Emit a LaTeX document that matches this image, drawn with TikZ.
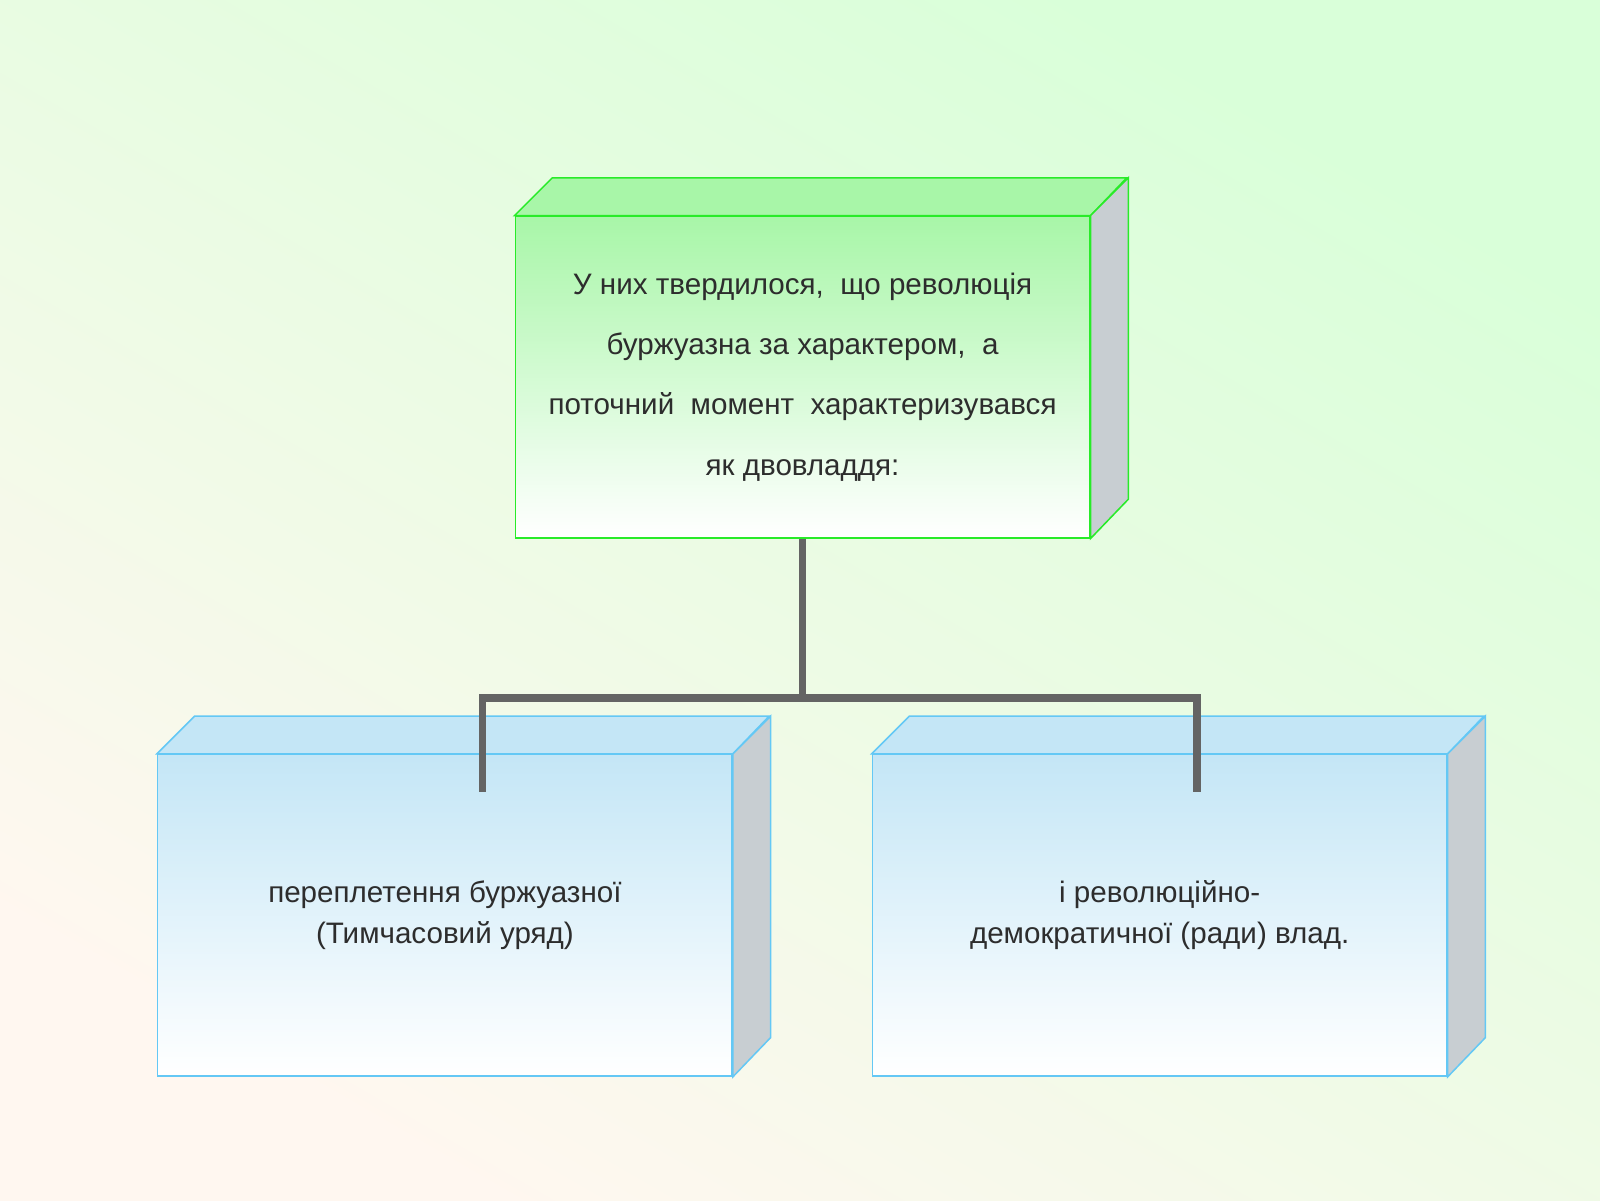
\documentclass[tikz,border=0pt]{standalone}
\usepackage{fontspec}
\setmainfont{Liberation Sans}
\usetikzlibrary{positioning}
\definecolor{greenline}{RGB}{40,235,40}
\definecolor{greentop}{RGB}{168,246,168}
\definecolor{blueline}{RGB}{100,200,245}
\definecolor{bluetop}{RGB}{196,230,246}
\definecolor{sidegray}{RGB}{200,206,210}
\definecolor{linkgray}{RGB}{100,100,100}
\definecolor{txt}{RGB}{45,45,45}
\tikzset{
  front/.style={draw=#1line, line width=1.5pt, top color=#1top, bottom color=white,
    minimum width=563pt, minimum height=315pt, inner sep=0pt, align=center,
    text=txt, font=\fontsize{29}{40}\selectfont},
  link/.style={draw=linkgray, line width=7pt}
}
\begin{document}
\begin{tikzpicture}[x=1pt, y=-1pt]
	\shade[top color=white!85!green, bottom color=orange!6, shading angle=-30] (0,0) rectangle (1568,1176);
	\useasboundingbox (0,0) rectangle (1568,1176);

	\node[front=green, font=\fontsize{29}{59}\selectfont] (top)	at	(786.5, 369.5)	{У них твердилося, \ що революція\\ буржуазна за характером, \ а\\ поточний \ момент \ характеризувався\\ як двовладдя:};
	\node[front=blue]	(left)	at	(436, 897)	{переплетення буржуазної\\ (Тимчасовий уряд)};
	\node[front=blue]	(right)	at	(1136.5, 897)	{і революційно-\\ демократичної (ради) влад.};

	% top and side faces
	\foreach \n/\col in {top/green, left/blue, right/blue} {
		\filldraw[draw=\col line, line width=1.5pt, fill=\col top] (\n.north west) -- ++(37,-37) -- ++(563,0) -- (\n.north east) -- cycle;
		\filldraw[draw=\col line, line width=1.5pt, fill=sidegray] (\n.north east) -- ++(37,-37) -- ++(0,315) -- (\n.south east) -- cycle;
	}

	\coordinate (fork) at (786.5, 684);
	\draw[link] (top.south) -- (fork);
	\draw[link] (fork) -| ([xshift=36.5pt, yshift=-37pt]left.north);
	\draw[link] (fork) -| ([xshift=36.5pt, yshift=-37pt]right.north);
\end{tikzpicture}
\end{document}
